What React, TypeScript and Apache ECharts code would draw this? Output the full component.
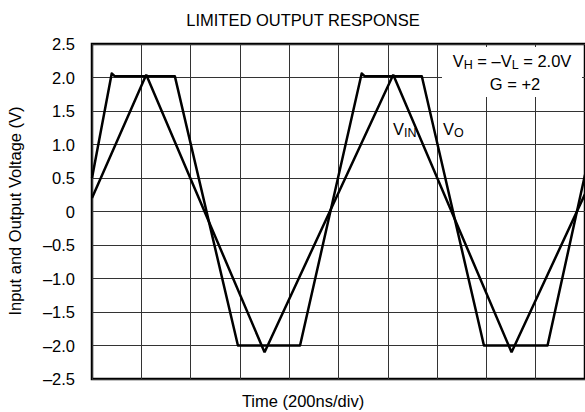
import React, { useEffect, useRef } from 'react';
import * as echarts from 'echarts';

// Time axis in divisions (200ns/div)
const xMin = 0;
const xMax = 10;
const yMin = -2.5;
const yMax = 2.5;
const yStep = 0.5;

// Input signal V_IN (triangle)
const vinX = [0, 1.1, 3.5, 6.11, 8.51, 10];
const vinY = [0.2, 2.04, -2.1, 2.04, -2.1, 0.26];

// Output signal V_O (limited at ±2.0V)
const voX = [0, 0.4, 0.46, 1.68, 2.96, 4.22, 5.47, 5.53, 6.69, 7.95, 9.24, 10];
const voY = [0.5, 2.06, 2.02, 2.02, -2.0, -2.0, 2.06, 2.02, 2.02, -2.0, -2.0, 0.55];

const titleText = 'LIMITED OUTPUT RESPONSE';
const xName = 'Time (200ns/div)';
const yName = 'Input and Output Voltage (V)';

const FONT = '"Liberation Sans", Arial, Helvetica, sans-serif';
const FS = 16.5;

function pairs(xs: number[], ys: number[]) {
  return xs.map((x, i) => [x, ys[i]]);
}

function fmtY(v: number) {
  if (Math.abs(v) < 1e-9) return '0';
  const s = Math.abs(v).toFixed(1);
  return v < 0 ? '\u2013' + s : s;
}

export default function App() {
  const ref = useRef<HTMLDivElement>(null);
  useEffect(() => {
    document.body.style.margin = '0';
    if (!ref.current) return;
    const chart = echarts.init(ref.current, null, { renderer: 'svg' });
    const rich = {
      m: { fontSize: FS, lineHeight: 20, fontFamily: FONT, fill: '#000' },
      s: { fontSize: 12.5, lineHeight: 9, verticalAlign: 'bottom', fontFamily: FONT, fill: '#000' },
    };
    chart.setOption({
      animation: false,
      backgroundColor: '#fff',
      grid: {
        left: 92,
        right: -4,
        top: 44,
        bottom: 33,
        show: true,
        borderColor: '#000',
        borderWidth: 2.5,
        backgroundColor: 'transparent',
      },
      xAxis: {
        type: 'value',
        min: xMin,
        max: xMax,
        interval: 1,
        axisLine: { show: false },
        axisTick: { show: false },
        axisLabel: { show: false },
        splitLine: { show: true, lineStyle: { color: '#333', width: 1 } },
      },
      yAxis: {
        type: 'value',
        min: yMin,
        max: yMax,
        interval: yStep,
        axisLine: { show: false },
        axisTick: { show: false },
        axisLabel: {
          show: true,
          margin: 17,
          color: '#000',
          fontSize: FS,
          fontFamily: FONT,
          formatter: (v: number) => fmtY(v),
        },
        splitLine: { show: true, lineStyle: { color: '#333', width: 1 } },
      },
      series: [
        {
          name: 'VIN',
          type: 'line',
          data: pairs(vinX, vinY),
          showSymbol: false,
          symbol: 'none',
          lineStyle: { color: '#000', width: 2.5 },
          z: 5,
        },
        {
          name: 'VO',
          type: 'line',
          data: pairs(voX, voY),
          showSymbol: false,
          symbol: 'none',
          lineStyle: { color: '#000', width: 2.5, join: 'round' },
          z: 5,
        },
      ],
      graphic: [
        {
          type: 'rect',
          z: 50,
          shape: { x: 442, y: 47, width: 140, height: 50 },
          style: { fill: '#fff' },
        },
        {
          type: 'text',
          z: 60,
          x: 512,
          y: 61,
          style: {
            text: '{m|V}{s|H}{m| = \u2013V}{s|L}{m| = 2.0V}',
            rich,
            align: 'center',
            verticalAlign: 'middle',
          },
        },
        {
          type: 'text',
          z: 60,
          x: 515,
          y: 84,
          style: {
            text: 'G = +2',
            fontSize: FS,
            fontFamily: FONT,
            fill: '#000',
            align: 'center',
            verticalAlign: 'middle',
          },
        },
        {
          type: 'text',
          z: 60,
          x: 393,
          y: 129,
          style: {
            text: '{m|V}{s|IN}',
            rich,
            align: 'left',
            verticalAlign: 'middle',
          },
        },
        {
          type: 'text',
          z: 60,
          x: 443,
          y: 129,
          style: {
            text: '{m|V}{s|O}',
            rich,
            align: 'left',
            verticalAlign: 'middle',
          },
        },
        {
          type: 'text',
          z: 60,
          x: 303,
          y: 20,
          style: {
            text: titleText,
            fontSize: FS,
            fontFamily: FONT,
            fill: '#000',
            align: 'center',
            verticalAlign: 'middle',
          },
        },
        {
          type: 'text',
          z: 60,
          x: 303,
          y: 401,
          style: {
            text: xName,
            fontSize: FS,
            fontFamily: FONT,
            fill: '#000',
            align: 'center',
            verticalAlign: 'middle',
          },
        },
        {
          type: 'text',
          z: 60,
          x: 14.5,
          y: 211,
          rotation: Math.PI / 2,
          style: {
            text: yName,
            fontSize: FS,
            fontFamily: FONT,
            fill: '#000',
            align: 'center',
            verticalAlign: 'middle',
          },
        },
      ],
    });
    return () => chart.dispose();
  }, []);
  return <div ref={ref} style={{ width: 585, height: 412 }} />;
}
